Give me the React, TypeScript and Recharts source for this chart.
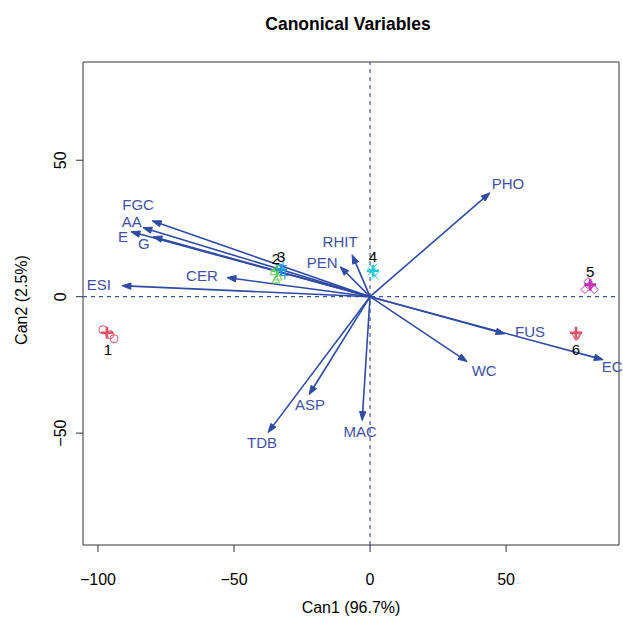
import { ScatterChart, Scatter, XAxis, YAxis, ReferenceLine, ReferenceArea } from "recharts"

// structure coefficients (arrow tips)
const variables = ["FGC", "AA", "E", "G", "CER", "ESI", "RHIT", "PEN", "PHO", "FUS", "EC", "WC", "ASP", "TDB", "MAC"]
const varCan1 = [-80.1, -83.5, -87.9, -79.8, -52.6, -91.2, -6.6, -11, 44.1, 49.6, 85.7, 35.7, -22.4, -37.5, -2.9]
const varCan2 = [27.8, 25.3, 23.8, 22, 7, 4, 15.4, 11, 38.1, -13.6, -23.1, -23.8, -35.9, -49.8, -45.4]

// group means
const groups = ["1", "2", "3", "4", "5", "6"]
const groupCan1 = [-96.7, -34.2, -32.7, 1.1, 80.9, 75.7]
const groupCan2 = [-13.2, 9.5, 9.9, 9.5, 4.4, -13.2]

// individual canonical scores
const obsGroup = [1, 1, 1, 2, 2, 2, 3, 3, 3, 4, 4, 4, 5, 5, 5, 5, 6, 6]
const obsCan1 = [-98.2, -94.1, -95.6, -35.3, -33.8, -34.6, -32.7, -31.3, -32, 1.1, 1.8, 0.7, 80.1, 82.4, 79, 80.9, 75.7, 76.4]
const obsCan2 = [-12.1, -15.4, -13.9, 9.2, 7.3, 6.2, 9.9, 7.7, 11.4, 10.6, 7.7, 9.2, 5.5, 2.6, 2.6, 4.4, -14.7, -14.2]

const xTicks = [-100, -50, 0, 50]
const yTicks = [-50, 0, 50]

const X_DOMAIN = [-105.5, 91.5]
const Y_DOMAIN = [-91, 86]

const FONT = "'Liberation Sans', Arial, Helvetica, sans-serif"
const ARROW = "#2F4BA2"
const VAR_TEXT = "#3F51A5"
const groupColors = ["#DF536B", "#61D04F", "#2297E6", "#28C8D8", "#C431B5", "#DF536B"]

// label offsets in px from the arrow tip / group mean
const varLabelOffset: Record<string, [number, number]> = {
  FGC: [-14, -16], AA: [-11, -6], E: [-8, 5], G: [-9, 7], CER: [-25, -2], ESI: [-23, -1],
  RHIT: [-12, -13], PEN: [-18, -4], PHO: [18, -9], FUS: [25, -2], EC: [9, 7], WC: [17, 9],
  ASP: [1, 10], TDB: [-6, 10], MAC: [-2, 11],
}
const groupLabelOffset: [number, number][] = [[1, 17], [-1, -12], [0, -13], [0, -14], [0, -13], [0, 17]]

const fmt = (v: number) => (v < 0 ? `\u2212${Math.abs(v)}` : `${v}`)

const Arrow = (props: any) => {
  const { x1, y1, x2, y2, name } = props
  const ang = Math.atan2(y2 - y1, x2 - x1)
  const len = 9
  const w = 3.2
  const bx = x2 - len * Math.cos(ang)
  const by = y2 - len * Math.sin(ang)
  const px = -Math.sin(ang) * w
  const py = Math.cos(ang) * w
  const [dx, dy] = varLabelOffset[name] || [0, 0]
  return (
    <g>
      <line x1={x1} y1={y1} x2={bx} y2={by} stroke={ARROW} strokeWidth={1.6} />
      <polygon points={`${x2},${y2} ${bx + px},${by + py} ${bx - px},${by - py}`} fill={ARROW} stroke={ARROW} strokeWidth={1} />
      <text x={x2 + dx} y={y2 + dy} textAnchor="middle" dominantBaseline="central" fontSize={15} fontFamily={FONT} fill={VAR_TEXT}>
        {name}
      </text>
    </g>
  )
}

const ObsShape = (props: any) => {
  const { cx, cy, payload } = props
  const g = payload.g
  const c = groupColors[g - 1]
  const s = 4
  const common = { fill: "none", stroke: c, strokeWidth: 1 }
  if (g === 1) return <circle cx={cx} cy={cy} r={s} {...common} />
  if (g === 2) return <polygon points={`${cx},${cy - s} ${cx - s},${cy + s * 0.8} ${cx + s},${cy + s * 0.8}`} {...common} />
  if (g === 3) return <path d={`M${cx - s},${cy}H${cx + s}M${cx},${cy - s}V${cy + s}`} {...common} />
  if (g === 4) return <path d={`M${cx - s},${cy - s}L${cx + s},${cy + s}M${cx - s},${cy + s}L${cx + s},${cy - s}`} {...common} />
  if (g === 5) return <polygon points={`${cx},${cy - s} ${cx + s},${cy} ${cx},${cy + s} ${cx - s},${cy}`} {...common} />
  return <polygon points={`${cx},${cy + s} ${cx - s},${cy - s * 0.8} ${cx + s},${cy - s * 0.8}`} {...common} />
}

const MeanShape = (props: any) => {
  const { cx, cy, payload } = props
  const i = payload.i
  const c = groupColors[i]
  const s = 6
  const [dx, dy] = groupLabelOffset[i]
  return (
    <g>
      <path d={`M${cx - s},${cy}H${cx + s}M${cx},${cy - s}V${cy + s}`} stroke={c} strokeWidth={2.6} fill="none" />
      <text x={cx + dx} y={cy + dy} textAnchor="middle" dominantBaseline="central" fontSize={15} fontFamily={FONT} fill="#000">
        {payload.name}
      </text>
    </g>
  )
}

const XTick = ({ x, y, payload }: any) => (
  <text x={x} y={y + 27} textAnchor="middle" dominantBaseline="central" fontSize={16} fontFamily={FONT} fill="#000">
    {fmt(payload.value)}
  </text>
)

const YTick = ({ x, y, payload }: any) => (
  <text x={x - 15} y={y} transform={`rotate(-90 ${x - 15} ${y})`} textAnchor="middle" dominantBaseline="central" fontSize={16} fontFamily={FONT} fill="#000">
    {fmt(payload.value)}
  </text>
)

export default function App() {
  const obsData = obsGroup.map((g, k) => ({ x: obsCan1[k], y: obsCan2[k], g }))
  const meanData = groups.map((name, i) => ({ x: groupCan1[i], y: groupCan2[i], name, i }))

  return (
    <div style={{ position: "absolute", left: 0, top: 0, width: 623, height: 617, background: "#fff" }}>
      <div style={{ position: "absolute", left: 78, top: 14, width: 540, textAlign: "center", fontFamily: FONT, fontWeight: "bold", fontSize: 17.5, lineHeight: "20px" }}>
        Canonical Variables
      </div>
      <ScatterChart width={623} height={617} margin={{ top: 62, right: 4, bottom: 0, left: 0 }}>
        <XAxis
          type="number"
          dataKey="x"
          domain={X_DOMAIN}
          ticks={xTicks}
          allowDataOverflow
          height={72}
          axisLine={false}
          tickSize={7}
          tickMargin={0}
          tickLine={{ stroke: "#333" }}
          tick={<XTick />}
          label={() => (
            <text x={351} y={607} textAnchor="middle" dominantBaseline="central" fontSize={16} fontFamily={FONT} fill="#000">
              Can1 (96.7%)
            </text>
          )}
        />
        <YAxis
          type="number"
          dataKey="y"
          domain={Y_DOMAIN}
          ticks={yTicks}
          allowDataOverflow
          width={83}
          axisLine={false}
          tickSize={7}
          tickMargin={0}
          tickLine={{ stroke: "#333" }}
          tick={<YTick />}
          label={() => (
            <text x={21} y={300} transform="rotate(-90 21 300)" textAnchor="middle" dominantBaseline="central" fontSize={16} fontFamily={FONT} fill="#000">
              Can2 (2.5%)
            </text>
          )}
        />
        <ReferenceArea x1={X_DOMAIN[0]} x2={X_DOMAIN[1]} y1={Y_DOMAIN[0]} y2={Y_DOMAIN[1]} fill="none" stroke="#333" strokeWidth={1} ifOverflow="visible" />
        <ReferenceLine x={0} stroke="#4150A8" strokeDasharray="4 4" strokeWidth={1.2} />
        <ReferenceLine y={0} stroke="#4150A8" strokeDasharray="4 4" strokeWidth={1.2} />
        <Scatter data={obsData} shape={<ObsShape />} isAnimationActive={false} />
        <Scatter data={meanData} shape={<MeanShape />} isAnimationActive={false} />
        {variables.map((name, k) => (
          <ReferenceLine
            key={name}
            segment={[{ x: 0, y: 0 }, { x: varCan1[k], y: varCan2[k] }]}
            ifOverflow="visible"
            shape={(p: any) => <Arrow {...p} name={name} />}
          />
        ))}
      </ScatterChart>
    </div>
  )
}
